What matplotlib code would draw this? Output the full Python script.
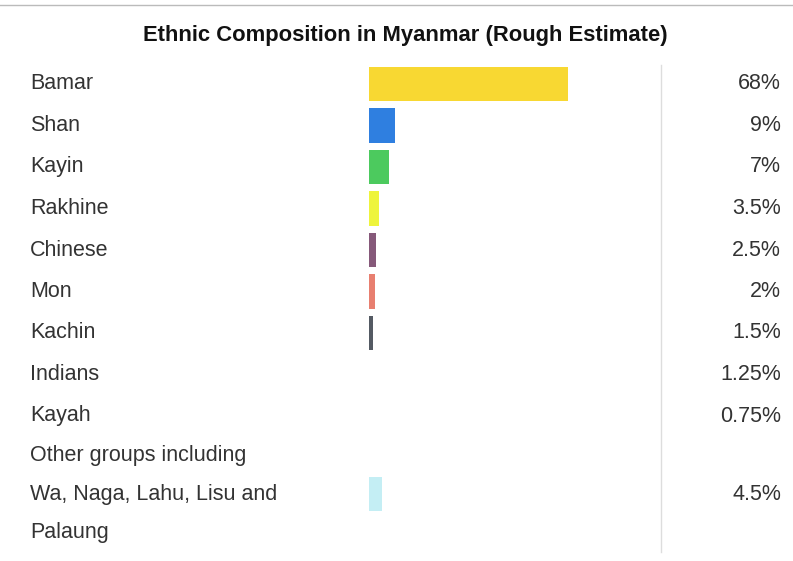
import matplotlib.pyplot as plt

groups = ['Bamar', 'Shan', 'Kayin', 'Rakhine', 'Chinese', 'Mon', 'Kachin',
          'Indians', 'Kayah', 'Other groups including\nWa, Naga, Lahu, Lisu and\nPalaung']
shares = [68, 9, 7, 3.5, 2.5, 2, 1.5, 1.25, 0.75, 4.5]
labels = ['68%', '9%', '7%', '3.5%', '2.5%', '2%', '1.5%', '1.25%', '0.75%', '4.5%']
colors = ['#f8d832', '#2f7fe0', '#4cca5e', '#eef43c', '#86597a', '#e87f70', '#545a63',
          'none', 'none', '#c4eef4']

plt.rcParams['font.family'] = ['Liberation Sans', 'DejaVu Sans']

W, H = 793, 561
fig = plt.figure(figsize=(W / 100, H / 100), dpi=100)

# row centres in row units (last row is taller, three lines)
rows = [0, 1, 2, 3, 4, 5, 6, 7, 8, 9.88]
row_px = 41.5
top_px, bot_px = 62, 550
y0 = (top_px - 84) / row_px
y1 = (bot_px - 84) / row_px

ax = fig.add_axes([369 / W, 1 - bot_px / H, (661 - 369) / W, (bot_px - top_px) / H])
ax.barh(rows, shares, height=0.82, color=colors, linewidth=0)
ax.set_xlim(0, 100)
ax.set_ylim(y1, y0)
ax.axis('off')

# label and value columns
tx = fig.add_axes([0, 1 - bot_px / H, 1, (bot_px - top_px) / H])
tx.set_xlim(0, W)
tx.set_ylim(y1, y0)
tx.axis('off')
for r, g, l in zip(rows, groups, labels):
    tx.text(30, r, g, ha='left', va='center', fontsize=15.5, color='#333333',
            linespacing=2.1)
    tx.text(781, r, l, ha='right', va='center', fontsize=15.5, color='#333333')

fig.text(405 / W, 1 - 36 / H, 'Ethnic Composition in Myanmar (Rough Estimate)',
         ha='center', va='center', fontsize=15.8, fontweight='bold', color='#111111')

# thin frame lines
fig.add_artist(plt.Line2D([0, 1], [1 - 5 / H, 1 - 5 / H], color='#bbbbbb', lw=1))
fig.add_artist(plt.Line2D([661 / W, 661 / W], [1 - 65 / H, 1 - 552 / H], color='#dddddd', lw=1))

fig.savefig('out.png', dpi=100)
